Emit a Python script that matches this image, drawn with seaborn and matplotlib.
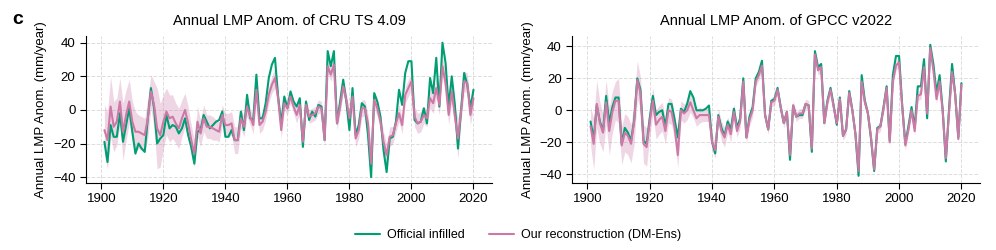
import numpy as np
import pandas as pd
import matplotlib
matplotlib.use('Agg')
import matplotlib.pyplot as plt
import seaborn as sns
from matplotlib.lines import Line2D

years = list(range(1901, 2021))

# CRU TS 4.09 panel
cru_official = [
    -19, -31, -9, -16, -16, -2, -19, -9, 1, -13,
    -26, -20, -23, -25, -5, 13, 1, -20, -17, -15,
    -3, -11, -9, -10, -14, -11, -5, -15, -22, -32,
    -13, -12, -3, -7, -11, -9, -7, -6, -1, -16,
    -16, -12, -18, -18, -1, -12, 9, -5, -6, 21,
    -5, -5, 4, 19, 27, 31, 8, -8, 8, 1,
    11, 5, 2, 7, -22, 5, -6, -1, -4, 3,
    2, -18, 35, 26, 35, -8, 5, 18, 5, -12,
    13, -15, -9, 4, 2, -15, -40, 10, 5, -4,
    -24, -37, -17, -16, -7, 12, 3, 22, 29, 29,
    -6, -8, -7, 1, -8, 19, 10, 31, 2, 40,
    28, 2, 20, 3, -23, 0, 22, 15, 1, 12,
]
cru_recon = [
    -12, -18, 2, -10, -7, 5, -13, -3, 5, -7,
    -13, -13, -14, -15, -5, 11, 3, -11, -15, -7,
    -1, -5, -4, -8, -11, -5, 0, -8, -18, -26,
    -7, -14, -5, -10, -10, -11, -12, -13, -3, -9,
    -9, -8, -18, -18, -5, -10, 2, -4, -9, 12,
    -9, -7, -1, 9, 15, 19, 7, -12, 4, 1,
    8, 2, -3, 3, -19, 3, -4, -3, -2, 2,
    1, -18, 26, 21, 27, -8, 2, 14, 6, -5,
    8, -17, -12, 1, 1, -8, -32, 6, 1, -7,
    -19, -27, -16, -15, -8, -2, -9, 9, 13, 17,
    -4, -8, -7, -3, -5, 7, 4, 13, 3, 26,
    16, -3, 11, -4, -17, -1, 17, 16, -3, 7,
]
cru_spread = [
    15, 17, 18, 15, 14, 14, 17, 15, 13, 12,
    12, 10, 10, 10, 12, 10, 14, 24, 19, 16,
    14, 14, 13, 12, 12, 11, 10, 10, 9, 8,
    9, 8, 8, 7, 7, 7, 6, 6, 6, 7,
    7, 7, 8, 8, 6, 6, 6, 5, 5, 5,
    5, 5, 5, 5, 5, 6, 5, 5, 4, 4,
    4, 4, 5, 4, 4, 4, 4, 4, 4, 4,
    4, 4, 4, 4, 4, 4, 4, 4, 4, 5,
    5, 5, 5, 5, 5, 5, 7, 5, 5, 5,
    6, 7, 6, 5, 5, 5, 5, 5, 5, 5,
    6, 6, 6, 5, 5, 6, 6, 6, 6, 6,
    6, 6, 6, 6, 12, 6, 6, 6, 6, 6,
]

# GPCC v2022 panel
gpcc_official = [
    -7, -18, 3, -7, -13, 9, -8, 2, 8, 8,
    -21, -11, -14, -19, -6, 20, 13, -19, -21, -5,
    9, -3, -1, 0, -10, 4, 4, -6, -17, 1,
    -1, 4, 12, 8, 0, 0, 0, 1, 3, -20,
    -27, -3, -11, -16, -7, -12, 1, -11, -5, 20,
    -17, -4, 2, 20, 24, 31, -3, -12, 6, 7,
    14, 2, -8, -1, -31, 3, -4, -3, -3, 4,
    3, -26, 37, 27, 29, -8, 6, 14, 3, -9,
    8, -16, -12, 12, 0, -15, -41, 22, 6, -2,
    -18, -38, -11, -10, 2, 15, -19, 22, 34, 34,
    3, -21, -10, 2, -11, 15, 15, 32, -5, 41,
    29, 11, 22, 0, -32, 0, 29, 10, -17, 17,
]
gpcc_recon = [
    -10, -21, 4, -8, -14, 5, -13, -1, 6, 6,
    -22, -14, -16, -21, -7, 19, 11, -21, -23, -7,
    6, -9, -6, -4, -13, 0, -1, -11, -28, 0,
    -2, 0, 5, 0, -5, -3, -3, -3, -3, -20,
    -25, -4, -13, -17, -9, -15, -1, -13, -7, 18,
    -17, -6, 0, 18, 22, 28, -3, -12, 5, 6,
    13, 2, -8, -1, -28, 3, -4, -2, -2, 4,
    3, -24, 35, 25, 27, -8, 5, 13, 2, -8,
    7, -16, -12, 11, 0, -15, -38, 18, 5, -2,
    -17, -37, -12, -10, 1, 14, -20, 18, 28, 30,
    2, -22, -12, 0, -13, 9, 10, 27, -2, 39,
    25, 7, 18, -1, -30, -2, 24, 10, -18, 16,
]
gpcc_spread = [
    12, 16, 15, 13, 12, 14, 15, 13, 12, 14,
    12, 12, 12, 12, 14, 12, 10, 12, 12, 10,
    8, 9, 9, 9, 8, 8, 8, 8, 8, 6,
    6, 6, 6, 5, 5, 5, 4, 4, 4, 5,
    5, 5, 6, 6, 5, 5, 5, 4, 4, 4,
    4, 4, 4, 3, 3, 3, 3, 3, 3, 3,
    3, 3, 3, 3, 3, 3, 3, 3, 3, 3,
    3, 3, 3, 3, 3, 3, 3, 3, 3, 3,
    3, 3, 3, 3, 3, 3, 3, 3, 3, 3,
    3, 3, 3, 3, 3, 3, 3, 3, 3, 3,
    3, 3, 3, 3, 3, 3, 3, 3, 3, 3,
    3, 3, 3, 3, 3, 3, 3, 3, 3, 3,
]

titles = ['Annual LMP Anom. of CRU TS 4.09', 'Annual LMP Anom. of GPCC v2022']
labels = ['Official infilled', 'Our reconstruction (DM-Ens)']
green = '#009E73'
pink = '#CC79A7'

sns.set_style('ticks')
plt.rcParams['font.family'] = ['Liberation Sans', 'DejaVu Sans']
for key in ['text.color', 'axes.labelcolor', 'xtick.color', 'ytick.color', 'axes.edgecolor']:
    plt.rcParams[key] = 'black'

fig = plt.figure(figsize=(9.96, 2.5), dpi=100)
ax1 = fig.add_axes([0.0863, 0.268, 0.4076, 0.588])
ax2 = fig.add_axes([0.5743, 0.268, 0.4096, 0.588])

panels = [
    (ax1, cru_official, cru_recon, cru_spread, (-43.5, 44)),
    (ax2, gpcc_official, gpcc_recon, gpcc_spread, (-45.5, 46.5)),
]

for (ax, off, rec, spr, ylim), title in zip(panels, titles):
    df = pd.DataFrame({'Year': years, 'official': off, 'recon': rec, 'spread': spr})
    ax.fill_between(df['Year'], df['recon'] - df['spread'], df['recon'] + df['spread'],
                    color=pink, alpha=0.3, linewidth=0)
    sns.lineplot(data=df, x='Year', y='official', ax=ax, color=green, linewidth=1.5)
    sns.lineplot(data=df, x='Year', y='recon', ax=ax, color=pink, linewidth=1.5)
    ax.set_ylim(*ylim)
    ax.set_xticks([1900, 1920, 1940, 1960, 1980, 2000, 2020])
    ax.set_yticks([-40, -20, 0, 20, 40])
    ax.grid(True, linestyle='--', color='#dddddd', linewidth=0.7)
    ax.set_axisbelow(True)
    ax.set_title(title, fontsize=10.5, pad=8)
    ax.set_xlabel('')
    ax.set_ylabel('Annual LMP Anom. (mm/year)', fontsize=9.5)
    ax.tick_params(labelsize=9.5, length=4, width=0.8)
    sns.despine(ax=ax)

fig.text(0.012, 0.905, 'c', fontsize=14, fontweight='bold')

handles = [Line2D([], [], color=green, linewidth=1.5),
           Line2D([], [], color=pink, linewidth=1.5)]
fig.legend(handles, labels, loc='lower center', bbox_to_anchor=(0.52, -0.01), ncol=2,
           frameon=False, fontsize=9, handlelength=2.0, handletextpad=0.6,
           columnspacing=1.9)

fig.savefig('out.png', dpi=100)
